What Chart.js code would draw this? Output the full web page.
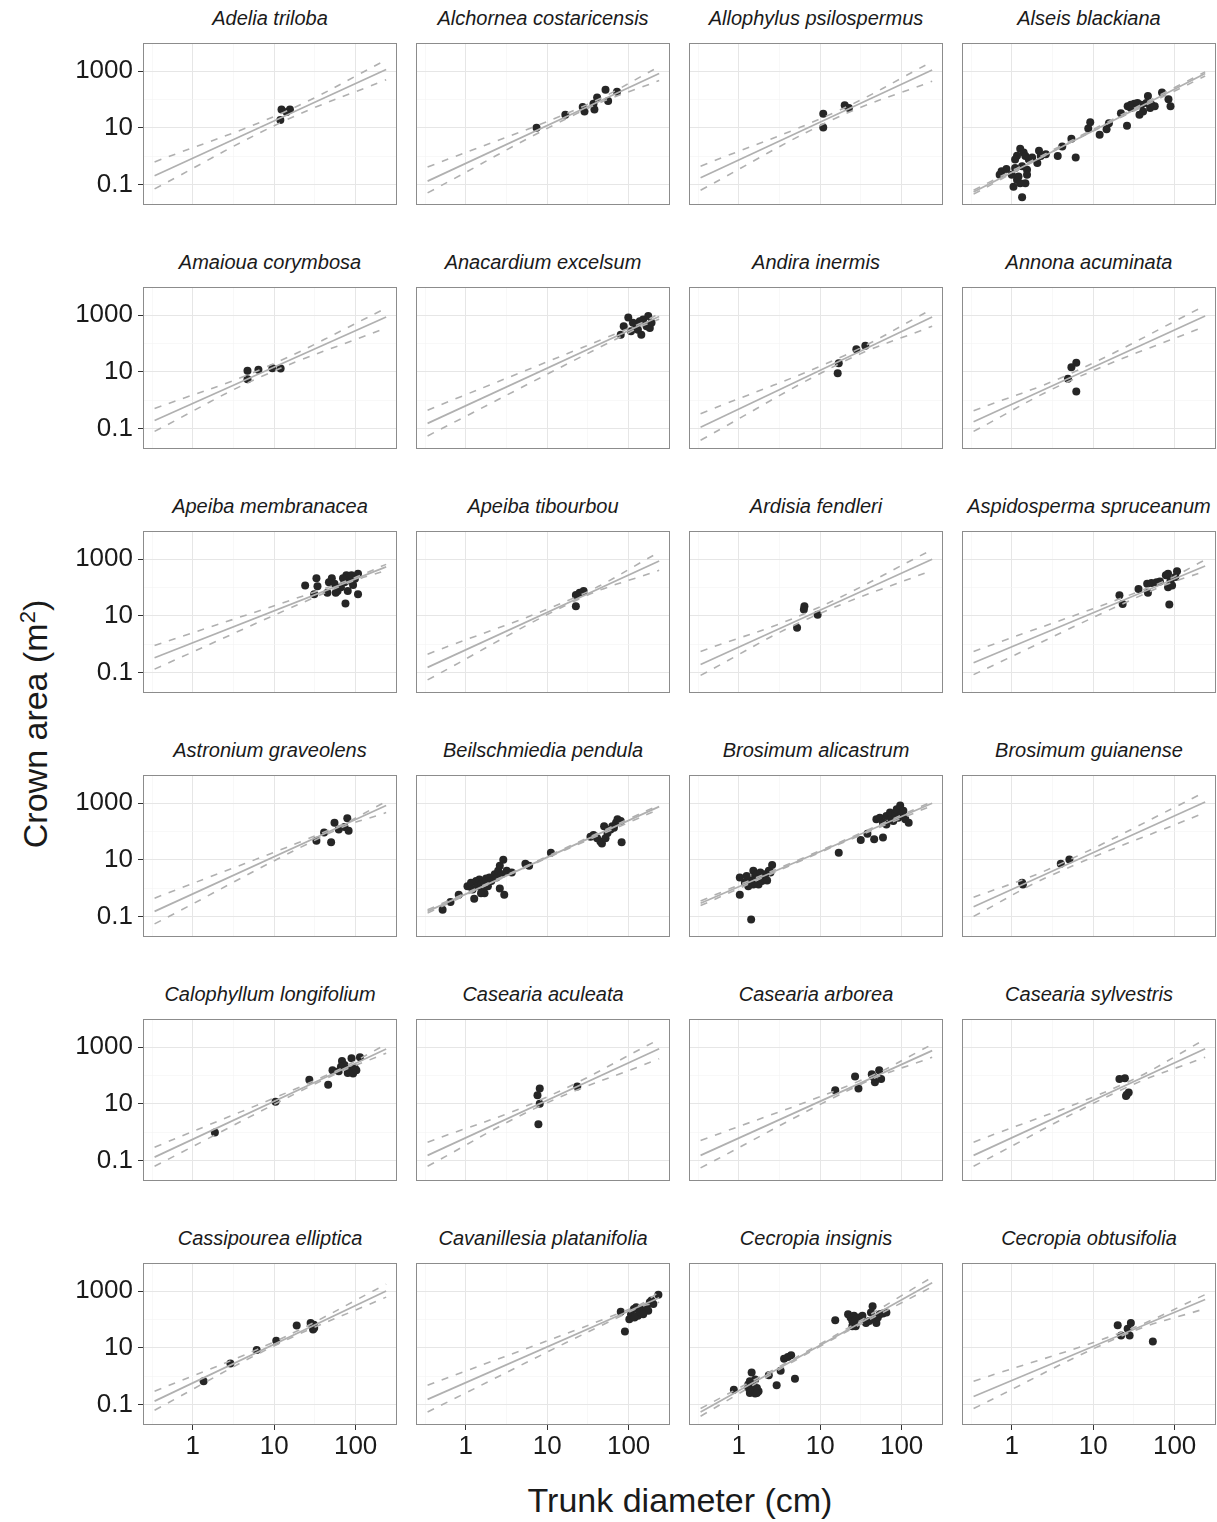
<!DOCTYPE html>
<html>
<head>
<meta charset="utf-8">
<script src="https://cdn.jsdelivr.net/npm/chart.js@4.4.1/dist/chart.umd.min.js"></script>
<style>
  html, body { margin: 0; padding: 0; background: #fff; }
  #fig { position: relative; width: 1217px; height: 1522px; overflow: hidden;
         font-family: "Liberation Sans", Arial, sans-serif; color: #1a1a1a; }
  #fig canvas { position: absolute; }
  .strip { position: absolute; text-align: center; font-style: italic; font-size: 20px;
           line-height: 24px; white-space: nowrap; color: #1a1a1a; }
  .axtitle { position: absolute; font-size: 34px; white-space: nowrap; transform: translate(-50%, -50%); }
  .axtitle.y { transform: translate(-50%, -50%) rotate(-90deg); }
  .axtitle sup { font-size: 22px; }
</style>
</head>
<body>
<div id="fig">
  <div class="axtitle y" style="left:35px;top:724px">Crown area (m<sup>2</sup>)</div>
  <div class="axtitle" style="left:680px;top:1500px">Trunk diameter (cm)</div>
</div>
<script>
/* Crown area vs trunk diameter, one log-log panel per species. */

const species = [
  'Adelia triloba', 'Alchornea costaricensis', 'Allophylus psilospermus', 'Alseis blackiana',
  'Amaioua corymbosa', 'Anacardium excelsum', 'Andira inermis', 'Annona acuminata',
  'Apeiba membranacea', 'Apeiba tibourbou', 'Ardisia fendleri', 'Aspidosperma spruceanum',
  'Astronium graveolens', 'Beilschmiedia pendula', 'Brosimum alicastrum', 'Brosimum guianense',
  'Calophyllum longifolium', 'Casearia aculeata', 'Casearia arborea', 'Casearia sylvestris',
  'Cassipourea elliptica', 'Cavanillesia platanifolia', 'Cecropia insignis', 'Cecropia obtusifolia',
];

// fitted line: crown area at the two ends of the diameter range
const fitX = [0.34, 237];
const fitLo = [0.20, 0.13, 0.17, 0.054, 0.19, 0.15, 0.11, 0.17, 0.33, 0.15, 0.19, 0.22,
  0.15, 0.15, 0.29, 0.22, 0.13, 0.15, 0.15, 0.15, 0.13, 0.15, 0.054, 0.19];
const fitHi = [1150, 830, 1100, 830, 870, 910, 870, 950, 540, 870, 1000, 575,
  830, 760, 1000, 1100, 870, 890, 760, 890, 1020, 590, 2000, 510];

// confidence band (dashed): start, narrowest point, end
const bandMidX = [13, 28, 15, 3.9, 7.2, 130, 20, 5.1, 72, 24, 7.1, 58,
  55, 4.1, 10.5, 3.2, 45, 8.3, 33, 22, 10.7, 130, 10.5, 25];
const upperLo = [0.62, 0.41, 0.44, 0.062, 0.50, 0.44, 0.33, 0.42, 0.89, 0.44, 0.55, 0.55,
  0.44, 0.17, 0.35, 0.47, 0.29, 0.44, 0.50, 0.44, 0.29, 0.47, 0.071, 0.66];
const upperMid = [35, 58, 35, 2.2, 13, 470, 38, 8.3, 160, 50, 13.5, 123,
  135, 4.1, 22.4, 5.4, 105, 13.8, 71, 46, 17.8, 310, 14.8, 40];
const upperHi = [2500, 1450, 2190, 950, 1780, 1150, 1660, 2190, 660, 1780, 2190, 950,
  1150, 870, 1150, 2500, 1260, 1900, 1260, 1900, 1780, 950, 3160, 760];
const lowerLo = [0.069, 0.050, 0.062, 0.045, 0.078, 0.054, 0.038, 0.078, 0.13, 0.054, 0.078, 0.083,
  0.054, 0.13, 0.24, 0.10, 0.062, 0.062, 0.054, 0.062, 0.062, 0.054, 0.038, 0.071];
const lowerMid = [17, 42, 21, 1.95, 7.1, 355, 24, 4.7, 126, 38, 7.9, 89,
  107, 3.7, 19.5, 3.0, 83, 8.5, 52, 31, 12.9, 257, 12.3, 30];
const lowerHi = [500, 470, 445, 680, 355, 725, 410, 410, 410, 410, 410, 380,
  470, 620, 830, 470, 620, 390, 445, 445, 620, 410, 1450, 245];

// observed trees: [diameter cm, crown area m2]
const adeliaPts = [[12.3, 44], [15.6, 44], [14.2, 36], [11.9, 19]];
const alchorneaPts = [[7.4, 10], [16.7, 29], [27.3, 55], [28.7, 38], [37, 71], [38, 44], [41, 117], [52, 224], [56, 89], [72, 188]];
const allophylusPts = [[10.9, 31.6], [10.9, 10.3], [20, 63], [22.5, 50]];
const alseisPts = [
  [0.75, 0.29], [0.86, 0.35], [0.71, 0.22], [1.05, 0.083], [1.16, 0.145], [1.27, 0.11], [1.47, 0.11],
  [1.10, 0.38], [1.34, 0.44], [1.54, 0.33], [1.62, 0.76], [1.27, 1.8], [1.40, 1.35], [1.16, 1.02],
  [1.47, 1.0], [1.78, 0.89], [2.16, 1.55], [2.27, 1.0], [2.62, 1.17], [2.06, 0.57], [1.34, 0.035],
  [1.21, 0.19], [1.54, 0.22], [1.10, 0.76], [1.0, 0.22],
  [3.67, 1.0], [4.17, 2.2], [5.4, 4.1], [6.1, 0.89], [8.7, 9.5], [9.2, 15.6], [12, 5.7], [14.6, 8.9],
  [15.6, 14.5], [21.9, 33], [26, 11.8],
  [26.5, 58], [29, 66], [32, 71], [35, 76], [39, 66], [41, 38], [47, 134], [50, 50], [37, 29],
  [52, 66], [57, 58], [70, 178], [84, 102], [89, 58], [29, 50], [45, 76],
];
const amaiouaPts = [[4.7, 11], [4.7, 5.4], [6.4, 11.8], [9.5, 13.5], [12, 13.2]];
const anacardiumPts = [[99, 830], [87, 410], [107, 270], [124, 470], [137, 620], [151, 710], [174, 950],
  [166, 410], [143, 205], [182, 355], [113, 540], [80, 205], [130, 310], [191, 540]];
const andiraPts = [[16.9, 20], [16.4, 8.9], [27.8, 63], [35.8, 83]];
const annonaPts = [[6.2, 21], [5.4, 14.5], [4.9, 5.7], [6.2, 2.0]];
const apeibaMemPts = [[24, 117], [33, 215], [34, 110], [31, 58], [47, 155], [51, 215], [55, 135], [60, 76],
  [66, 102], [73, 155], [77, 270], [80, 76], [84, 178], [93, 123], [98, 205], [107, 310], [107, 58],
  [75, 27], [57, 66], [45, 66], [70, 215], [89, 270]];
const apeibaTibPts = [[22.5, 55], [25, 66], [28, 76], [22.5, 22]];
const ardisiaPts = [[6.4, 22], [6.3, 16.6], [9.3, 11], [5.2, 3.8]];
const aspidospermaPts = [[21, 53], [23, 26], [36, 89], [46, 135], [47, 66], [52, 146], [60, 155], [66, 163],
  [78, 270], [83, 310], [89, 178], [83, 102], [93, 117], [102, 234], [107, 380], [86, 25]];
const astroniumPts = [[33, 47], [41, 93], [50, 42], [55, 205], [62, 117], [73, 146], [79, 295], [82, 107]];
const beilschmiediaPts = [
  [0.52, 0.17], [0.65, 0.32], [0.82, 0.58], [1.05, 1.17], [1.16, 1.55], [1.21, 0.89], [1.34, 1.78],
  [1.40, 1.17], [1.47, 2.0], [1.54, 1.35], [1.62, 1.02], [1.70, 1.55], [1.78, 2.2], [1.87, 1.17],
  [1.96, 2.35], [2.06, 1.78], [2.27, 3.1], [2.38, 2.35], [2.50, 4.1], [2.62, 6.2], [2.75, 3.1],
  [2.89, 10], [2.97, 0.58], [2.62, 0.96], [3.18, 4.1], [3.67, 3.55], [1.70, 0.66], [1.27, 0.42],
  [1.54, 0.66], [5.4, 7.2], [6.0, 6.2], [11.1, 17.8],
  [34, 66], [37, 76], [41, 58], [45, 44], [47, 38], [50, 155], [55, 89], [60, 117], [63, 155],
  [70, 205], [73, 270], [80, 234], [82, 42], [52, 58], [66, 135],
];
const brosimumAliPts = [
  [1.03, 0.58], [1.42, 0.077], [1.03, 2.35], [1.19, 1.55], [1.31, 1.17], [1.37, 1.87], [1.51, 4.1],
  [1.59, 2.7], [1.67, 3.1], [1.75, 1.35], [1.84, 3.55], [1.93, 1.78], [2.02, 2.35], [2.12, 3.1],
  [2.23, 1.87], [2.34, 4.1], [2.45, 3.55], [2.57, 6.6], [1.51, 1.35], [1.25, 2.7],
  [16.9, 17.8], [31.5, 50], [38, 83], [46, 53], [59, 62],
  [49, 270], [54, 310], [59, 205], [65, 355], [72, 470], [75, 270], [83, 410], [87, 620], [91, 310],
  [96, 830], [105, 540], [111, 270], [122, 205], [79, 234], [65, 178], [100, 410],
];
const brosimumGuiPts = [[1.37, 1.35], [1.34, 1.55], [4.0, 7.2], [5.1, 10.3]];
const calophyllumPts = [[1.87, 0.96], [10.4, 11.8], [27, 71], [46, 47], [52, 155], [62, 141], [68, 330],
  [73, 234], [80, 123], [84, 155], [89, 410], [93, 117], [98, 178], [102, 155], [113, 445], [66, 205]];
const caseariaAcuPts = [[8.1, 35], [7.6, 20], [8.1, 10], [7.8, 1.9], [23.4, 41]];
const caseariaArbPts = [[15.3, 30], [26.8, 93], [29.5, 35], [43, 110], [47, 58], [53, 155], [56, 76], [45, 89]];
const caseariaSylPts = [[21, 76], [24.5, 81], [25.8, 21], [27.3, 25], [25.3, 19]];
const cassipoureaPts = [[1.36, 0.66], [2.9, 2.8], [6.1, 8.3], [10.6, 17.8], [18.9, 62], [28, 76],
  [30.7, 66], [30, 44], [31, 50]];
const cavanillesiaPts = [[80, 190], [90, 38], [102, 102], [107, 155], [116, 234], [124, 270], [130, 135],
  [137, 178], [143, 234], [155, 205], [166, 270], [174, 205], [182, 410], [191, 470], [201, 355],
  [232, 760], [118, 117], [151, 155]];
const cecropiaInsPts = [
  [0.87, 0.33], [1.31, 0.38], [1.37, 0.25], [1.44, 0.29], [1.51, 0.33], [1.59, 0.24], [1.67, 0.38],
  [1.75, 0.29], [1.44, 1.35], [1.59, 0.76], [2.34, 1.07], [2.92, 0.47], [3.27, 1.55], [3.6, 4.1],
  [4.0, 4.7], [4.4, 5.4], [4.9, 0.81], [1.31, 0.5], [1.51, 0.58], [1.67, 0.25], [1.37, 0.66],
  [15.3, 95], [22, 155], [23.6, 117], [24.8, 89], [26, 135], [27.3, 102], [30, 117], [33, 135],
  [36.5, 76], [40, 89], [44, 295], [46, 102], [49, 76], [51, 117], [54, 155], [59, 163], [65, 178],
  [27.3, 58], [24.8, 58], [42, 178],
];
const cecropiaObtPts = [[20, 63], [26.5, 47], [29, 76], [22, 27.5], [28, 27.5], [54, 16.6]];

const panelPoints = [
  adeliaPts, alchorneaPts, allophylusPts, alseisPts, amaiouaPts, anacardiumPts, andiraPts, annonaPts,
  apeibaMemPts, apeibaTibPts, ardisiaPts, aspidospermaPts, astroniumPts, beilschmiediaPts,
  brosimumAliPts, brosimumGuiPts, calophyllumPts, caseariaAcuPts, caseariaArbPts, caseariaSylPts,
  cassipoureaPts, cavanillesiaPts, cecropiaInsPts, cecropiaObtPts,
];

// axes
const xRange = [0.245, 322];
const yRange = [0.0186, 10000];
const xGrid = [0.316, 1, 3.16, 10, 31.6, 100];
const xLabels = { 1: '1', 10: '10', 100: '100' };
const yGrid = [0.1, 1, 10, 100, 1000];
const yLabels = { 0.1: '0.1', 10: '10', 1000: '1000' };

// layout (px)
const P = { x0: 143, y0: 43, dx: 273, dy: 244, w: 254, h: 162 };
const AXIS_W = 78, AXIS_H = 44, PAD = 4;
const LINE = '#b0b0b0', DOT = '#262626';

Chart.defaults.font.family = '"Liberation Sans", Arial, sans-serif';

const frame = {
  id: 'frame',
  afterDatasetsDraw(chart) {
    const { ctx, chartArea: a } = chart;
    ctx.save();
    ctx.strokeStyle = '#8c8c8c';
    ctx.lineWidth = 1;
    ctx.strokeRect(Math.round(a.left) + 0.5, Math.round(a.top) + 0.5,
      Math.round(a.right - a.left) - 1, Math.round(a.bottom - a.top) - 1);
    ctx.restore();
  },
};

const noPad = (s) => { s.paddingTop = 0; s.paddingBottom = 0; s.paddingLeft = 0; s.paddingRight = 0; };

const fig = document.getElementById('fig');

species.forEach((name, i) => {
  const r = Math.floor(i / 4), c = i % 4;
  const left = P.x0 + c * P.dx, top = P.y0 + r * P.dy;
  const showY = c === 0, showX = r === 5;
  const padL = showY ? AXIS_W : PAD, padB = showX ? AXIS_H : PAD;

  const strip = document.createElement('div');
  strip.className = 'strip';
  strip.style.cssText = `left:${left}px;top:${top - 37}px;width:${P.w}px`;
  strip.textContent = name;
  fig.appendChild(strip);

  const cv = document.createElement('canvas');
  cv.width = P.w + padL + PAD;
  cv.height = P.h + PAD + padB;
  cv.style.left = (left - padL) + 'px';
  cv.style.top = (top - PAD) + 'px';
  cv.style.width = cv.width + 'px';
  cv.style.height = cv.height + 'px';
  fig.appendChild(cv);

  const gridOpts = (majors, show) => ({
    color: (ctx) => (ctx.tick && majors[ctx.tick.value] !== undefined ? '#e6e6e6' : '#f3f3f3'),
    lineWidth: (ctx) => (ctx.tick && majors[ctx.tick.value] !== undefined ? 1 : 0.6),
    drawTicks: show,
    tickLength: 5,
    tickWidth: 1,
    tickColor: (ctx) => (ctx.tick && majors[ctx.tick.value] !== undefined ? '#333' : 'rgba(0,0,0,0)'),
  });

  new Chart(cv, {
    type: 'scatter',
    data: {
      datasets: [
        {
          data: panelPoints[i].map(([x, y]) => ({ x, y })),
          backgroundColor: DOT, borderWidth: 0, pointRadius: 4, order: 3,
        },
        {
          data: [{ x: fitX[0], y: upperLo[i] }, { x: bandMidX[i], y: upperMid[i] }, { x: fitX[1], y: upperHi[i] }],
          showLine: true, borderColor: LINE, borderWidth: 1.6, borderDash: [7, 8],
          pointRadius: 0, tension: 0.4, order: 2,
        },
        {
          data: [{ x: fitX[0], y: lowerLo[i] }, { x: bandMidX[i], y: lowerMid[i] }, { x: fitX[1], y: lowerHi[i] }],
          showLine: true, borderColor: LINE, borderWidth: 1.6, borderDash: [7, 8],
          pointRadius: 0, tension: 0.4, order: 2,
        },
        {
          data: [{ x: fitX[0], y: fitLo[i] }, { x: fitX[1], y: fitHi[i] }],
          showLine: true, borderColor: LINE, borderWidth: 1.7,
          pointRadius: 0, order: 1,
        },
      ],
    },
    options: {
      responsive: false, animation: false, devicePixelRatio: 1,
      layout: { padding: { left: showY ? 0 : PAD, right: PAD, top: PAD, bottom: showX ? 0 : PAD } },
      plugins: { legend: { display: false }, tooltip: { enabled: false } },
      scales: {
        x: {
          type: 'logarithmic', min: xRange[0], max: xRange[1],
          afterBuildTicks: (s) => { s.ticks = xGrid.map((v) => ({ value: v })); },
          afterFit: (s) => { s.height = showX ? AXIS_H : 0; noPad(s); },
          border: { display: false },
          grid: gridOpts(xLabels, showX),
          ticks: {
            display: showX, autoSkip: false, maxRotation: 0, padding: 1,
            color: '#1a1a1a', font: { size: 26 },
            callback: (v) => xLabels[v] || '',
          },
        },
        y: {
          type: 'logarithmic', min: yRange[0], max: yRange[1],
          afterBuildTicks: (s) => { s.ticks = yGrid.map((v) => ({ value: v })); },
          afterFit: (s) => { s.width = showY ? AXIS_W : 0; noPad(s); },
          border: { display: false },
          grid: gridOpts(yLabels, showY),
          ticks: {
            display: showY, autoSkip: false, padding: 5,
            color: '#1a1a1a', font: { size: 26 },
            callback: (v) => yLabels[v] || '',
          },
        },
      },
    },
    plugins: [frame],
  });
});
</script>
</body>
</html>
